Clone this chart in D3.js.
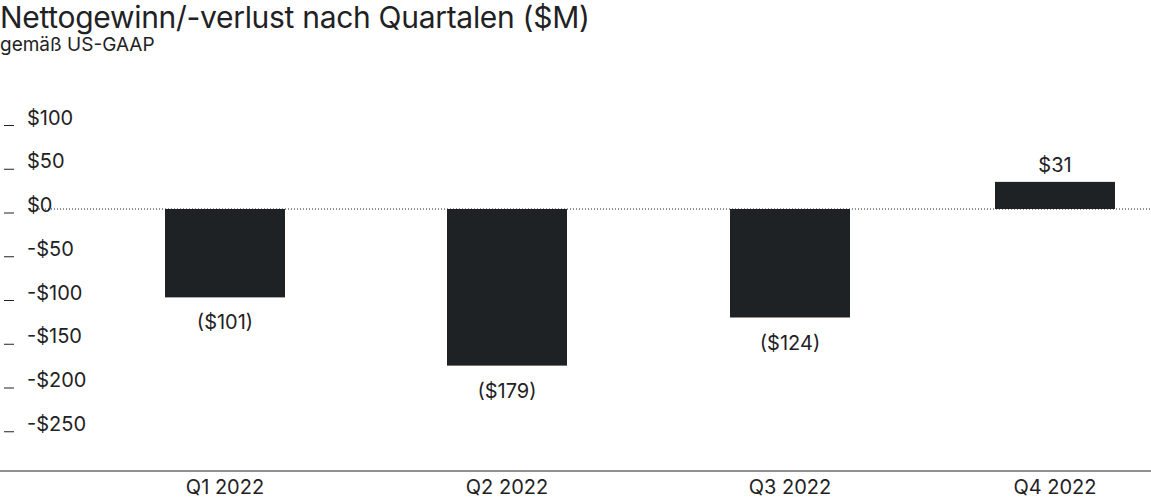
<!DOCTYPE html>
<html><head><meta charset="utf-8">
<script src="https://cdn.jsdelivr.net/npm/d3@7"></script>
<style>body{margin:0;background:#fff;font-family:"Inter","Liberation Sans",sans-serif;}</style>
</head><body><svg id="c" width="1151" height="502"></svg>
<script>
const categories=["Q1 2022","Q2 2022","Q3 2022","Q4 2022"];
const values=[-101,-179,-124,31];
const valueLabels=["($101)","($179)","($124)","$31"];
const tickValues=[100,50,0,-50,-100,-150,-200,-250];
const tickLabels=["$100","$50","$0","-$50","-$100","-$150","-$200","-$250"];
const centers=[225,507,790,1055];

const svg=d3.select("#c");
const ink="#1f2224";
const y=d3.scaleLinear().domain([0,100]).range([209,121.5]);
const x=d3.scaleOrdinal().domain(categories).range(centers);
const bw=120;

svg.append("text").attr("x",0).attr("y",28).attr("font-size",30).attr("fill",ink).attr("letter-spacing",-0.3).text("Nettogewinn/-verlust nach Quartalen ($M)");
svg.append("text").attr("x",0).attr("y",51).attr("font-size",19).attr("fill",ink).text("gemäß US-GAAP");

tickValues.forEach((v,i)=>{
  svg.append("line").attr("x1",4).attr("x2",14).attr("y1",y(v)+4).attr("y2",y(v)+4).attr("stroke",ink).attr("stroke-width",1);
  svg.append("text").attr("x",27).attr("y",y(v)+3).attr("font-size",20).attr("fill",ink).text(tickLabels[i]);
});

svg.append("line").attr("x1",30).attr("x2",1151).attr("y1",y(0)).attr("y2",y(0)).attr("stroke",ink).attr("stroke-width",1).attr("stroke-dasharray","1,2");

categories.forEach((c,i)=>{
  const cx=x(c), v=values[i];
  svg.append("rect").attr("x",cx-bw/2).attr("width",bw)
    .attr("y",Math.min(y(0),y(v))).attr("height",Math.abs(y(v)-y(0))).attr("fill",ink);
  svg.append("text").attr("x",cx).attr("y",v<0?y(v)+32:y(v)-10).attr("text-anchor","middle").attr("font-size",20).attr("fill",ink).text(valueLabels[i]);
  svg.append("text").attr("x",cx).attr("y",494).attr("text-anchor","middle").attr("font-size",20).attr("fill",ink).text(c);
});
svg.append("line").attr("x1",0).attr("x2",1151).attr("y1",471).attr("y2",471).attr("stroke",ink).attr("stroke-width",1);
</script></body></html>
